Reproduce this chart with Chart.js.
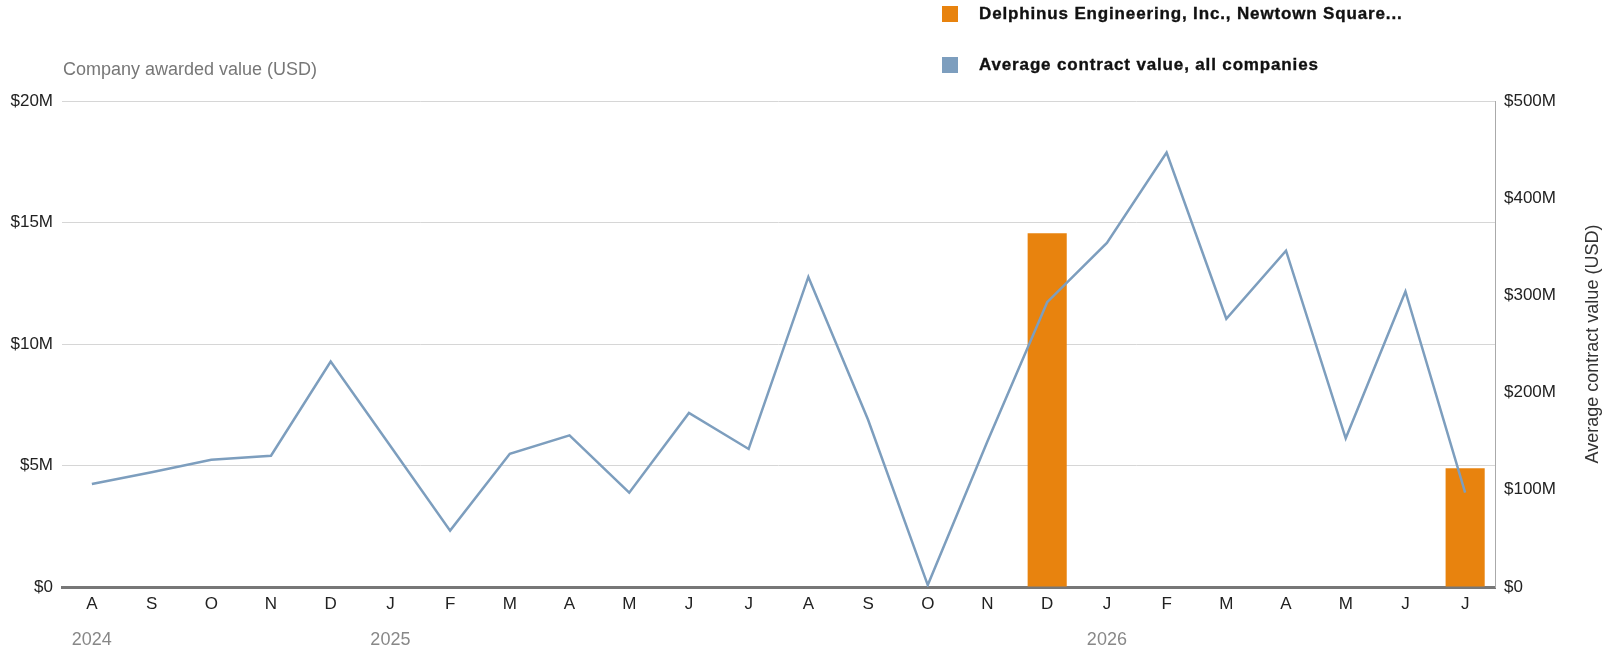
<!DOCTYPE html>
<html>
<head>
<meta charset="utf-8">
<script src="https://cdn.jsdelivr.net/npm/chart.js@4"></script>
<style>
  body { margin: 0; background: #fff; }
  #wrap { position: relative; width: 1606px; height: 656px; }
  #legend { position: absolute; left: 942px; top: 0; font-family: 'Liberation Sans', Arial, sans-serif; }
  .item { position: absolute; left: 0; white-space: nowrap; height: 16px; }
  .item .box { position: absolute; left: 0; top: 0; width: 16px; height: 16px; }
  .item .txt { position: absolute; left: 37px; top: -2px; font-weight: bold; font-size: 17px; line-height: 20px;
               letter-spacing: 0.85px; color: #111; -webkit-text-stroke: 0.35px #111; }
</style>
</head>
<body>
<div id="wrap">
  <canvas id="canvas" width="1606" height="656"></canvas>
  <div id="legend"></div>
</div>
<script>
var months = ['A','S','O','N','D','J','F','M','A','M','J','J','A','S','O','N','D','J','F','M','A','M','J','J'];
var years = ['2024','','','','','2025','','','','','','','','','','','','2026','','','','','',''];

// company awarded value, $M (left axis)
var companyValues = [0,0,0,0,0,0,0,0,0,0,0,0,0,0,0,0,14.56,0,0,0,0,0,0,4.89];
// average contract value, all companies, $M (right axis)
var averageValues = [106,118,131,135,232,145,58,137,156,97,179,142,319,172,2,150,293,354,447,276,346,153,304,97];

var leftTicks = [0,5,10,15,20];
var rightTicks = [0,100,200,300,400,500];

var seriesNames = ['Delphinus Engineering, Inc., Newtown Square...', 'Average contract value, all companies'];
var seriesColors = ['#E8830E', '#7D9EBE'];

var tickFont = { family: "'Liberation Sans', Arial, sans-serif", size: 17 };

function money(v) {
  return v === 0 ? '$0' : '$' + v + 'M';
}

var titlesPlugin = {
  id: 'axisTitles',
  afterDraw: function(chart) {
    var c = chart.ctx;
    var area = chart.chartArea;
    c.save();
    c.fillStyle = '#777';
    c.font = "18px 'Liberation Sans', Arial, sans-serif";
    c.textAlign = 'left';
    c.textBaseline = 'middle';
    c.fillText('Company awarded value (USD)', 63, 70);
    c.translate(1593, (area.top + area.bottom) / 2);
    c.rotate(-Math.PI / 2);
    c.fillStyle = '#333';
    c.textAlign = 'center';
    c.fillText('Average contract value (USD)', 0, 0);
    c.restore();
  }
};

var chart = new Chart(document.getElementById('canvas').getContext('2d'), {
  data: {
    labels: months,
    datasets: [
      {
        type: 'line',
        label: seriesNames[1],
        data: averageValues,
        yAxisID: 'y2',
        borderColor: seriesColors[1],
        borderWidth: 2.5,
        pointRadius: 0,
        tension: 0,
        order: 0
      },
      {
        type: 'bar',
        label: seriesNames[0],
        data: companyValues,
        yAxisID: 'y',
        backgroundColor: seriesColors[0],
        barPercentage: 0.655,
        categoryPercentage: 1,
        order: 1
      }
    ]
  },
  options: {
    responsive: false,
    animation: false,
    layout: { padding: { top: 101, left: 0, right: 0, bottom: 0 } },
    plugins: {
      legend: { display: false },
      tooltip: { enabled: false }
    },
    scales: {
      x: {
        type: 'category',
        position: 'bottom',
        weight: 0,
        offset: true,
        grid: { display: false, drawTicks: false },
        border: { display: true, color: '#777', width: 3 },
        ticks: { color: '#222', font: tickFont, padding: 7, autoSkip: false, maxRotation: 0 },
        afterFit: function(s) { s.height = 30; }
      },
      x2: {
        type: 'category',
        position: 'bottom',
        weight: 1,
        labels: months,
        offset: true,
        grid: { display: false, drawTicks: false },
        border: { display: false },
        ticks: {
          color: '#888',
          font: { family: tickFont.family, size: 18 },
          padding: 12,
          autoSkip: false,
          maxRotation: 0,
          callback: function(v, i) { return years[i]; }
        },
        afterFit: function(s) { s.height = 39; }
      },
      y: {
        position: 'left',
        min: 0,
        max: 20,
        afterBuildTicks: function(s) { s.ticks = leftTicks.map(function(v) { return { value: v }; }); },
        grid: { color: '#d6d6d6', lineWidth: 1, drawTicks: false },
        border: { display: false },
        ticks: { color: '#222', font: tickFont, padding: 9, callback: money },
        afterFit: function(s) { s.width = 62; }
      },
      y2: {
        position: 'right',
        min: 0,
        max: 500,
        afterBuildTicks: function(s) { s.ticks = rightTicks.map(function(v) { return { value: v }; }); },
        grid: { display: false, drawTicks: false },
        border: { display: true, color: '#aaa', width: 1 },
        ticks: { color: '#222', font: tickFont, padding: 9, callback: money },
        afterFit: function(s) { s.width = 111; }
      }
    }
  },
  plugins: [titlesPlugin]
});

// legend built from the datasets, stacked as in the original
var legend = document.getElementById('legend');
[1, 0].forEach(function(dsIndex, row) {
  var ds = chart.data.datasets[dsIndex];
  var item = document.createElement('div');
  item.className = 'item';
  item.style.top = (6 + row * 51) + 'px';
  var box = document.createElement('div');
  box.className = 'box';
  box.style.background = ds.type === 'bar' ? ds.backgroundColor : ds.borderColor;
  var txt = document.createElement('div');
  txt.className = 'txt';
  txt.textContent = ds.label;
  item.appendChild(box);
  item.appendChild(txt);
  legend.appendChild(item);
});
</script>
</body>
</html>
